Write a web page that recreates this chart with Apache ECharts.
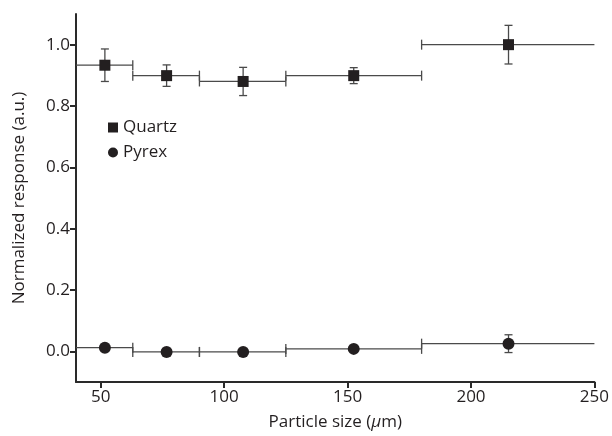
<!DOCTYPE html>
<html>
<head>
<meta charset="utf-8">
<script src="https://cdn.jsdelivr.net/npm/echarts@6/dist/echarts.min.js"></script>
<style>
  html, body { margin: 0; padding: 0; background: #fff; }
  #main { width: 612px; height: 436px; }
</style>
</head>
<body>
<div id="main"></div>
<script>
// particle size bins (um) and their centres
const binLo = [40, 63, 90, 125, 180];
const binHi = [63, 90, 125, 180, 250];
const binMid = [51.7, 76.7, 107.7, 152.5, 215.2];

// normalized response
const quartzY = [0.933, 0.899, 0.880, 0.899, 1.000];
const quartzErr = [0.053, 0.035, 0.046, 0.026, 0.063];
const pyrexY = [0.012, -0.002, -0.002, 0.008, 0.025];
const pyrexErr = [0.008, 0.005, 0.005, 0.006, 0.029];

const xTicks = [50, 100, 150, 200, 250];
const yTicks = [0, 0.2, 0.4, 0.6, 0.8, 1.0];

const X_MIN = 40, X_MAX = 250;
const INK = '#231f20';
const BAR = '#4a4a4a';
const FONT = 'Open Sans';

function rows(ys, errs) {
  return ys.map((y, i) => [binMid[i], y, binLo[i], binHi[i], errs[i]]);
}

// error bars: horizontal = bin width, vertical = error
function renderBars(params, api) {
  const x = api.value(0), y = api.value(1);
  const lo = api.value(2), hi = api.value(3), e = api.value(4);
  const c = api.coord([x, y]);
  const pLo = api.coord([lo, y]);
  const pHi = api.coord([hi, y]);
  const pTop = api.coord([x, y + e]);
  const pBot = api.coord([x, y - e]);
  const st = { stroke: BAR, lineWidth: 1.3 };
  const kids = [
    { type: 'line', shape: { x1: pLo[0], y1: c[1], x2: pHi[0], y2: c[1] }, style: st },
    { type: 'line', shape: { x1: c[0], y1: pTop[1], x2: c[0], y2: pBot[1] }, style: st },
    { type: 'line', shape: { x1: c[0] - 4, y1: pTop[1], x2: c[0] + 4, y2: pTop[1] }, style: st },
    { type: 'line', shape: { x1: c[0] - 4, y1: pBot[1], x2: c[0] + 4, y2: pBot[1] }, style: st }
  ];
  if (lo > X_MIN) {
    kids.push({ type: 'line', shape: { x1: pLo[0], y1: c[1] - 5, x2: pLo[0], y2: c[1] + 5 }, style: st });
  }
  if (hi < X_MAX) {
    kids.push({ type: 'line', shape: { x1: pHi[0], y1: c[1] - 5, x2: pHi[0], y2: c[1] + 5 }, style: st });
  }
  return { type: 'group', children: kids };
}

const chart = echarts.init(document.getElementById('main'));
const option = {
  animation: false,
  backgroundColor: '#fff',
  grid: { left: 76, right: 17, top: 14, bottom: 54 },
  legend: {
    left: 108, top: 119, orient: 'vertical',
    itemWidth: 10, itemHeight: 10, itemGap: 8, padding: 0,
    textStyle: { fontFamily: FONT, fontSize: 17, color: INK },
    data: [
      { name: 'Quartz', icon: 'rect' },
      { name: 'Pyrex', icon: 'circle' }
    ]
  },
  xAxis: {
    type: 'value', min: X_MIN, max: X_MAX,
    name: 'Particle size ({i|μ}m)',
    nameLocation: 'middle', nameGap: 32,
    nameTextStyle: {
      fontFamily: FONT, fontSize: 17, color: INK,
      rich: { i: { fontFamily: FONT, fontSize: 17, color: INK, fontStyle: 'italic' } }
    },
    axisLine: { onZero: false, lineStyle: { color: '#2a2a2a', width: 2 } },
    axisTick: { show: true, length: 6, customValues: xTicks, lineStyle: { color: '#2a2a2a', width: 2 } },
    axisLabel: { customValues: xTicks, fontFamily: FONT, fontSize: 17, color: INK, margin: 7 },
    splitLine: { show: false }
  },
  yAxis: {
    type: 'value', min: -0.1, max: 1.1,
    name: 'Normalized response (a.u.)',
    nameLocation: 'middle', nameGap: 48,
    nameTextStyle: { fontFamily: FONT, fontSize: 17, color: INK },
    axisLine: { show: true, onZero: false, lineStyle: { color: '#2a2a2a', width: 2 } },
    axisTick: { show: true, length: 6, customValues: yTicks, lineStyle: { color: '#2a2a2a', width: 2 } },
    axisLabel: {
      customValues: yTicks, fontFamily: FONT, fontSize: 17, color: INK, margin: 6,
      formatter: v => v.toFixed(1)
    },
    splitLine: { show: false }
  },
  series: [
    {
      type: 'custom', name: 'quartzBars', renderItem: renderBars,
      data: rows(quartzY, quartzErr), z: 2, silent: true
    },
    {
      type: 'custom', name: 'pyrexBars', renderItem: renderBars,
      data: rows(pyrexY, pyrexErr), z: 2, silent: true
    },
    {
      type: 'scatter', name: 'Quartz', symbol: 'rect', symbolSize: 11,
      itemStyle: { color: INK, opacity: 1 }, z: 3,
      data: binMid.map((x, i) => [x, quartzY[i]])
    },
    {
      type: 'scatter', name: 'Pyrex', symbol: 'circle', symbolSize: 12,
      itemStyle: { color: INK, opacity: 1 }, z: 3,
      data: binMid.map((x, i) => [x, pyrexY[i]])
    }
  ]
};
chart.setOption(option);
</script>
</body>
</html>
